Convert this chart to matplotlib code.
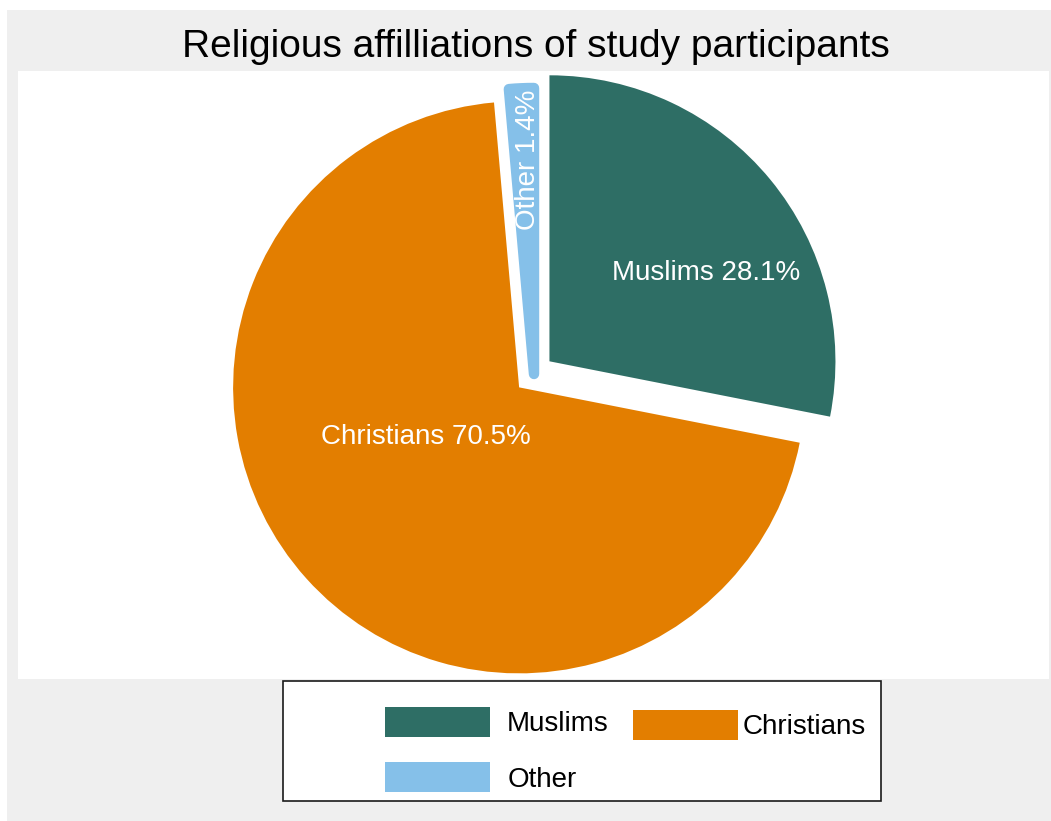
import numpy as np
import matplotlib
matplotlib.use("Agg")
import matplotlib.pyplot as plt
from matplotlib.patches import Rectangle, Patch

plt.rcParams['font.family'] = ['Liberation Sans', 'DejaVu Sans']

# ---- data ----
categories = ["Muslims", "Christians", "Other"]
shares = [28.1, 70.5, 1.4]
colors = ["#2e6e65", "#e37e00", "#85c0e9"]
title = "Religious affilliations of study participants"

# ---- style / layout ----
W, H = 1051, 821
DPI = 100
fig = plt.figure(figsize=(W / DPI, H / DPI), dpi=DPI)
fig.patch.set_facecolor("white")

def fx(px):
    return px / W

def fy(py):
    return 1 - py / H

# gray graph region
fig.add_artist(Rectangle((fx(7), 0), fx(W) - fx(7), fy(10), transform=fig.transFigure,
                         facecolor="#efefef", edgecolor="none", zorder=0))

# plot region (white), data units == pixels
px0, px1, py0, py1 = 18, 1049, 71, 679
ax = fig.add_axes([fx(px0), fy(py1), fx(px1) - fx(px0), fy(py0) - fy(py1)])
ax.set_facecolor("white")

center = (534, H - 374)
radius = 286
explode = [20, 20, 0]

wedges, _ = ax.pie(shares, colors=colors, startangle=90, counterclock=False,
                   center=center, radius=radius, explode=explode, frame=True,
                   wedgeprops=dict(linewidth=0))
ax.set_xlim(px0, px1)
ax.set_ylim(H - py1, H - py0)
ax.set_aspect("equal")
ax.set_axis_off()
ax.add_patch(Rectangle((px0, H - py1), px1 - px0, py1 - py0, facecolor="white",
                       edgecolor="none", zorder=-1))

# thick rounded outline for the tiny slice
wedges[2].set_edgecolor(colors[2])
wedges[2].set_linewidth(7.5)
wedges[2].set_joinstyle("round")

# label placement (angle in deg relative to each wedge's centre, distance as fraction of radius)
label_pos = [(29.5, 0.63, 0), (208.0, 0.37, 0), (91.6, 0.75, 90)]
for w, cat, sh, (ang, frac, rot) in zip(wedges, categories, shares, label_pos):
    cx, cy = w.center
    a = np.deg2rad(ang)
    ax.text(cx + frac * radius * np.cos(a), cy + frac * radius * np.sin(a),
            f"{cat} {sh:.1f}%", color="white", fontsize=20, ha="center", va="center",
            rotation=rot, rotation_mode="anchor")

# title
fig.text(fx(536), fy(57), title, fontsize=28, ha="center", va="baseline", color="black")

# legend frame
fig.add_artist(Rectangle((fx(283), fy(801)), fx(881) - fx(283), fy(681) - fy(801),
                         transform=fig.transFigure, facecolor="white",
                         edgecolor="#1a1a1a", linewidth=1.2, zorder=1))

leg_kw = dict(loc="upper left", frameon=False, fontsize=20, handlelength=3.78,
              handleheight=1.28, columnspacing=0.8, labelspacing=0.9,
              borderpad=0, borderaxespad=0)
col1 = [0, 2]
h1 = [Patch(facecolor=colors[i], edgecolor="none", label=categories[i]) for i in col1]
leg1 = fig.legend(handles=h1, bbox_to_anchor=(fx(385), fy(707)), handletextpad=0.62,
                  ncol=1, **leg_kw)
leg1.set_zorder(2)
h2 = [Patch(facecolor=colors[1], edgecolor="none", label=categories[1])]
leg2 = fig.legend(handles=h2, bbox_to_anchor=(fx(633), fy(710)), handletextpad=0.15,
                  ncol=1, **leg_kw)
leg2.set_zorder(2)

fig.savefig("out.png", dpi=DPI, facecolor=fig.get_facecolor())
